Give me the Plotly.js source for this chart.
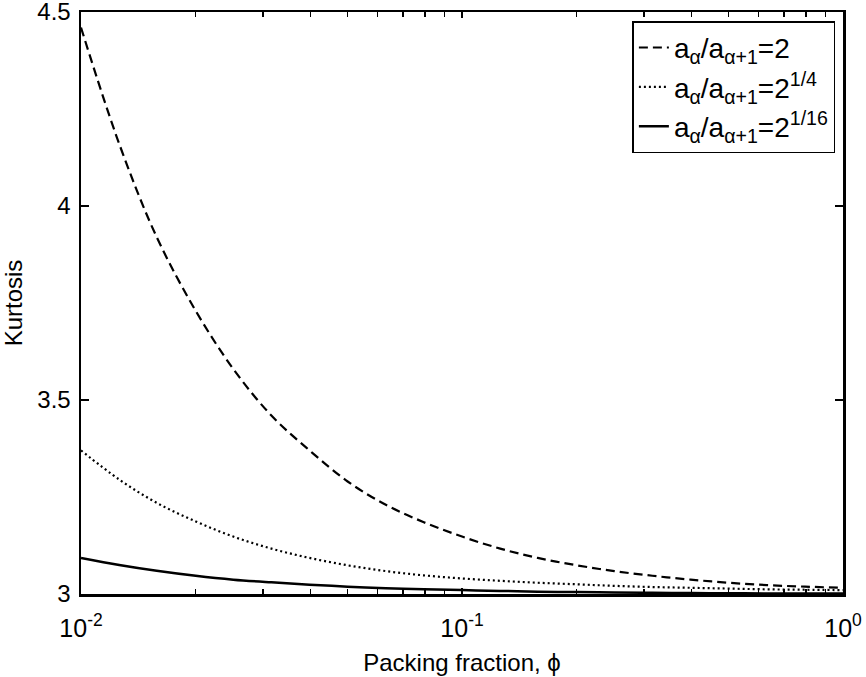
<!DOCTYPE html>
<html>
<head>
<meta charset="utf-8">
<script src="https://cdn.plot.ly/plotly-3.0.1.min.js"></script>
<style>html,body{margin:0;padding:0;background:#fff;}#chart{width:866px;height:677px;}</style>
</head>
<body>
<div id="chart"></div>
<script>
// Packing fraction (log axis)
const phi = [0.01, 0.0126, 0.0158, 0.02, 0.0251, 0.0316, 0.0398, 0.0501, 0.0631, 0.0794,
             0.1, 0.126, 0.158, 0.2, 0.251, 0.316, 0.398, 0.501, 0.631, 0.794, 1.0];
// a_alpha/a_alpha+1 = 2
const kurtRatio2 = [4.46, 4.16, 3.92, 3.73, 3.58, 3.46, 3.37, 3.29, 3.23, 3.185,
                    3.148, 3.117, 3.093, 3.074, 3.059, 3.047, 3.037, 3.029, 3.023, 3.019, 3.016];
// a_alpha/a_alpha+1 = 2^(1/4)
const kurtRatio2q = [3.370, 3.295, 3.235, 3.187, 3.148, 3.117, 3.093, 3.074, 3.059, 3.048,
                     3.040, 3.034, 3.029, 3.025, 3.021, 3.018, 3.016, 3.014, 3.012, 3.011, 3.010];
// a_alpha/a_alpha+1 = 2^(1/16)
const kurtRatio2s = [3.093, 3.075, 3.060, 3.047, 3.037, 3.030, 3.024, 3.019, 3.015, 3.012,
                     3.010, 3.008, 3.006, 3.005, 3.004, 3.003, 3.0025, 3.002, 3.0015, 3.0012, 3.001];

const seriesNames = [
  'a<sub>α</sub>/a<sub>α+1</sub>=2',
  'a<sub>α</sub>/a<sub>α+1</sub>=2<sup>1/4</sup>',
  'a<sub>α</sub>/a<sub>α+1</sub>=2<sup>1/16</sup>'
];

const xTickVals = [0.01, 0.1, 1];
const xTickText = ['10<sup>-2</sup>', '10<sup>-1</sup>', '10<sup>0</sup>'];
const xMinorVals = [0.02,0.03,0.04,0.05,0.06,0.07,0.08,0.09,
                    0.2,0.3,0.4,0.5,0.6,0.7,0.8,0.9];
const yTickVals = [3, 3.5, 4, 4.5];
const yTickText = ['3', '3.5', '4', '4.5'];

const font = 'Liberation Sans, Arial, Helvetica, sans-serif';

const traces = [
  {x: phi, y: kurtRatio2, name: seriesNames[0], mode: 'lines', line: {color: '#000', width: 2.2, dash: '9px,5px', shape: 'spline'}},
  {x: phi, y: kurtRatio2q, name: seriesNames[1], mode: 'lines', line: {color: '#000', width: 2.2, dash: '2px,3px', shape: 'spline'}},
  {x: phi, y: kurtRatio2s, name: seriesNames[2], mode: 'lines', line: {color: '#000', width: 2.5, shape: 'spline'}}
];

const layout = {
  width: 866, height: 677,
  margin: {l: 81, r: 23, t: 12, b: 83, pad: 0},
  paper_bgcolor: '#fff', plot_bgcolor: '#fff',
  font: {family: font, size: 24, color: '#000'},
  showlegend: true,
  legend: {
    x: 0.99, y: 0.984, xanchor: 'right', yanchor: 'top',
    bgcolor: '#fff', bordercolor: '#000', borderwidth: 1.5,
    font: {family: font, size: 28, color: '#000'},
    tracegroupgap: 0
  },
  xaxis: {
    type: 'log', range: [-2, 0],
    tickvals: xTickVals, ticktext: xTickText, tickangle: 0,
    ticks: 'inside', ticklen: 6, tickwidth: 1.5, tickcolor: '#000',
    minor: {tickvals: xMinorVals, ticks: 'inside', ticklen: 5, tickwidth: 1.5, tickcolor: '#000', showgrid: false},
    ticklabelstandoff: 10, ticklabeloverflow: 'allow',
    showline: true, linecolor: '#000', linewidth: 2.5, mirror: 'ticks',
    showgrid: false, zeroline: false,
    tickfont: {family: font, size: 25, color: '#000'},
    title: {text: 'Packing fraction, ϕ', font: {family: font, size: 24, color: '#000'}, standoff: 14}
  },
  yaxis: {
    range: [3, 4.5],
    tickvals: yTickVals, ticktext: yTickText,
    ticks: 'inside', ticklen: 8, tickwidth: 1.5, tickcolor: '#000',
    ticklabelstandoff: 3, ticklabeloverflow: 'allow',
    showline: true, linecolor: '#000', linewidth: 2.5, mirror: 'ticks',
    showgrid: false, zeroline: false,
    tickfont: {family: font, size: 24, color: '#000'},
    title: {text: 'Kurtosis', font: {family: font, size: 24, color: '#000'}, standoff: 10}
  }
};

Plotly.newPlot('chart', traces, layout, {displayModeBar: false, staticPlot: true});
</script>
</body>
</html>
